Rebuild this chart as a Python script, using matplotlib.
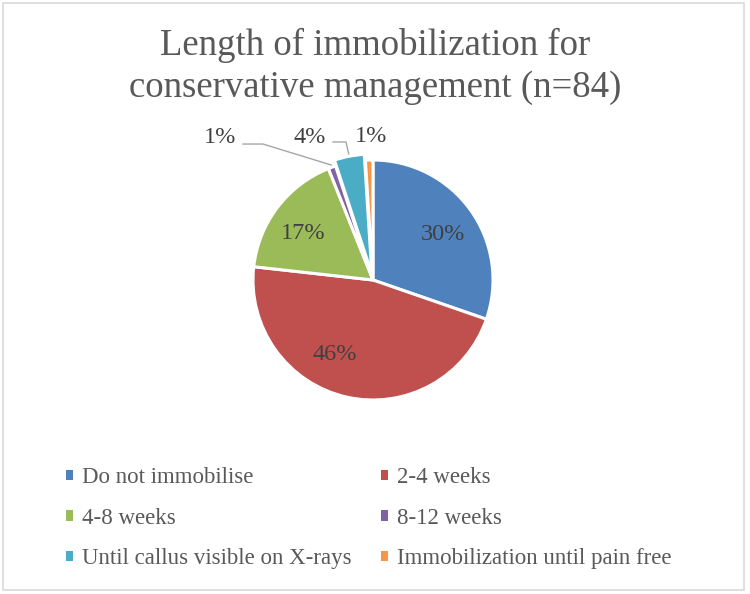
import numpy as np
import matplotlib
matplotlib.use("Agg")
import matplotlib.pyplot as plt
from matplotlib.patches import Patch, Rectangle

categories = ["Do not immobilise", "2-4 weeks", "4-8 weeks", "8-12 weeks",
              "Until callus visible on X-rays", "Immobilization until pain free"]
values = [30, 46, 17, 1, 4, 1]
pct_labels = ["30%", "46%", "17%", "1%", "4%", "1%"]
title_lines = ["Length of immobilization for", "conservative management (n=84)"]

colors = ["#4F81BD", "#C0504D", "#9BBB59", "#8064A2", "#4BACC6", "#F79646"]
explode = [0, 0, 0, 0, 0.05, 0]
inside = [True, True, True, False, False, False]
angle_shift = [-2.5, -14.5, 3.8, 0, 0, 0]
outer_pos = {3: (-1.275, 1.19), 4: (-0.525, 1.19), 5: (-0.017, 1.2)}
leader_mid = {3: [(-0.917, 1.133), (-1.083, 1.133)],
              4: [(-0.225, 1.15), (-0.333, 1.15)]}

plt.rcParams['font.family'] = ['Liberation Serif', 'DejaVu Serif']
W, H = 750, 594
fig = plt.figure(figsize=(W / 100, H / 100), dpi=100)
fig.patch.set_facecolor("white")

# outer border
fig.add_artist(Rectangle((3 / W, 4 / H), 741 / W, 587 / H, transform=fig.transFigure,
                         facecolor="none", edgecolor="#D9D9D9", linewidth=1.2))

R = 120.0
cx, cy = 373, 280
half = 223
ax = fig.add_axes([(cx - half) / W, (H - cy - half) / H, 2 * half / W, 2 * half / H])
wedges, _ = ax.pie(values, colors=colors, startangle=90, counterclock=False,
                   explode=explode, radius=1.0,
                   wedgeprops=dict(edgecolor="white", linewidth=2.2))
L = half / R
ax.set_xlim(-L, L)
ax.set_ylim(-L, L)
ax.set_aspect("equal")
ax.axis("off")

for i, w in enumerate(wedges):
    mid = np.deg2rad((w.theta1 + w.theta2) / 2 + angle_shift[i])
    if inside[i]:
        r = 0.70
        ax.text(r * np.cos(mid), r * np.sin(mid), pct_labels[i], ha="center", va="center",
                fontsize=17.5, color="#404040")
    else:
        x, y = outer_pos[i]
        ax.text(x, y, pct_labels[i], ha="center", va="center", fontsize=17.5, color="#404040")
        if i in leader_mid:
            m = np.deg2rad((w.theta1 + w.theta2) / 2)
            r0 = 1.02 + explode[i]
            pts = [(r0 * np.cos(m), r0 * np.sin(m))] + leader_mid[i]
            xs, ys = zip(*pts)
            ax.plot(xs, ys, color="#A6A6A6", linewidth=1.0, clip_on=False)

fig.text(0.5, 1 - 55 / H, title_lines[0], ha="center", va="baseline",
         fontsize=26.5, color="#595959")
fig.text(0.5, 1 - 97 / H, title_lines[1], ha="center", va="baseline",
         fontsize=26.5, color="#595959")

# row-wise legend order (matplotlib fills columns first)
order = [0, 2, 4, 1, 3, 5]
handles = [Patch(facecolor=colors[i], edgecolor="none") for i in order]
labels = [categories[i] for i in order]
leg = fig.legend(handles, labels, ncol=2, loc="upper left",
                 bbox_to_anchor=(66 / W, 1 - 467 / H), frameon=False,
                 fontsize=16.5, handlelength=0.31, handleheight=0.31,
                 handletextpad=0.39, columnspacing=1.27, labelspacing=0.86,
                 borderpad=0, borderaxespad=0)
for t in leg.get_texts():
    t.set_color("#595959")

fig.savefig("out.png", dpi=100, facecolor="white")
